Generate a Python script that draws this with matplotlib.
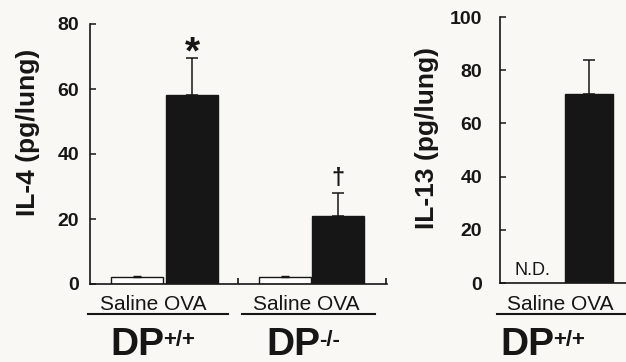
import matplotlib.pyplot as plt

plt.rcParams['font.family'] = ['Liberation Sans', 'DejaVu Sans']

# IL-4 data (pg/lung)
il4_groups = ['DP+/+', 'DP-/-']
il4_saline = [2.2, 2.2]
il4_saline_err = [0.4, 0.4]
il4_ova = [58.2, 20.8]
il4_ova_err = [11.3, 7.2]
il4_marks = ['*', '\u2020']

# IL-13 data (pg/lung), saline not detected
il13_ova = [71.0]
il13_ova_err = [12.8]

bg = '#f9f8f4'
dark = '#161616'
W, H = 626, 362

fig = plt.figure(figsize=(W / 100, H / 100), dpi=100, facecolor=bg)


def px_axes(x0, y_top, x1, y_bot):
    return fig.add_axes([x0 / W, 1 - y_bot / H, (x1 - x0) / W, (y_bot - y_top) / H])


def style(ax, pad):
    ax.set_facecolor('none')
    for s in ['top', 'right']:
        ax.spines[s].set_visible(False)
    for s in ['left', 'bottom']:
        ax.spines[s].set_linewidth(1.2)
        ax.spines[s].set_color(dark)
    ax.tick_params(axis='y', direction='in', length=4, width=1.1, pad=pad,
                   labelsize=14, colors=dark)
    ax.tick_params(axis='x', which='major', length=0, labelbottom=False)
    ax.tick_params(axis='x', which='minor', direction='in', length=4, width=1.1)
    for lab in ax.get_yticklabels():
        lab.set_fontweight('bold')


# left panel: IL-4
ax1 = px_axes(90, 24, 387, 284)
sal_pos = [0, 2.8]
ova_pos = [1.04, 3.8]
ax1.bar(sal_pos, il4_saline, width=0.98, color='white', edgecolor=dark, linewidth=1.0)
ax1.errorbar(sal_pos, il4_saline, yerr=[[0, 0], il4_saline_err], fmt='none',
             ecolor=dark, elinewidth=1.0, capsize=3)
ax1.bar(ova_pos, il4_ova, width=0.98, color=dark, edgecolor=dark)
ax1.errorbar(ova_pos, il4_ova, yerr=[[0, 0], il4_ova_err], fmt='none',
             ecolor=dark, elinewidth=1.1, capsize=4.5, capthick=1.1)
ax1.set_xlim(-0.887, 4.717)
ax1.set_ylim(0, 80)
ax1.set_yticks([0, 20, 40, 60, 80])
ax1.set_xticks([1.906, 4.70], minor=True)
style(ax1, 8)
ax1.annotate(il4_marks[0], (ova_pos[0], il4_ova[0] + il4_ova_err[0]), xytext=(0, -9.5),
             textcoords='offset points', ha='center', va='bottom', fontsize=28,
             fontweight='bold', color=dark)
ax1.annotate(il4_marks[1], (ova_pos[1], il4_ova[1] + il4_ova_err[1]), xytext=(0, 2),
             textcoords='offset points', ha='center', va='bottom', fontsize=17,
             fontweight='bold', color=dark)

# right panel: IL-13
ax2 = px_axes(500, 17, 640, 283)
ax2.bar([1.0], il13_ova, width=0.92, color=dark, edgecolor=dark)
ax2.errorbar([1.0], il13_ova, yerr=[[0], il13_ova_err], fmt='none',
             ecolor=dark, elinewidth=1.1, capsize=4.5, capthick=1.1)
ax2.set_xlim(-0.68, 1.96)
ax2.set_ylim(0, 100)
ax2.set_yticks([0, 20, 40, 60, 80, 100])
style(ax2, 13)
ax2.text(-0.07, 1.5, 'N.D.', ha='center', va='bottom', fontsize=13, color=dark)

# axis titles
fig.text(28 / W, 1 - 132 / H, 'IL-4 (pg/lung)', rotation=90, ha='center', va='center',
         fontsize=19, fontweight='bold', color=dark)
fig.text(427 / W, 1 - 138 / H, 'IL-13 (pg/lung)', rotation=90, ha='center', va='center',
         fontsize=19, fontweight='bold', color=dark)

# group labels below the axes
groups = [(153, 88, 228, 110, il4_groups[0]),
          (306, 242, 375, 266, il4_groups[1]),
          (560, 497, 640, 500, il4_groups[0])]
for cx, lx0, lx1, dpx, name in groups:
    fig.text(cx / W, 1 - 310 / H, 'Saline OVA', ha='center', va='baseline',
             fontsize=15, color=dark)
    fig.add_artist(plt.Line2D([lx0 / W, lx1 / W], [1 - 314 / H, 1 - 314 / H],
                              color=dark, linewidth=1.5))
    t = fig.text(dpx / W, 1 - 355 / H, 'DP', ha='left', va='baseline',
                 fontsize=28, fontweight='bold', color=dark)
    fig.add_artist(plt.Annotation(name[2:], xy=(1.0, 1.0), xycoords=t, xytext=(-1, -3),
                                  textcoords='offset pixels', ha='left', va='top',
                                  fontsize=16, fontweight='bold', color=dark,
                                  annotation_clip=False))

fig.savefig('out.png', dpi=100, facecolor=bg)
